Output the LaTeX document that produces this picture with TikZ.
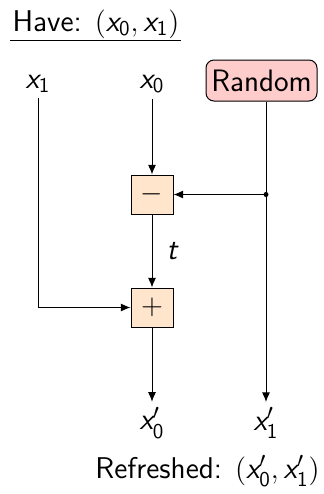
\documentclass[tikz,border=0pt]{standalone}
\usepackage{amsmath}
\usetikzlibrary{arrows.meta}
\renewcommand{\familydefault}{\sfdefault}
% sans-serif variables and indices
\newcommand{\vx}{\textsl{x}}
\newcommand{\ix}[1]{\textsf{#1}}
\newcommand{\vt}{\textsl{t}}
\newcommand{\lblfont}{\fontsize{15}{18}\selectfont}

\begin{document}
\begin{tikzpicture}[x=0.5pt, y=-0.5pt,
  >={Latex[length=4.8pt,width=4pt]},
  line width=0.5pt,
  opbox/.style={draw, fill=orange!20, minimum width=21pt, minimum height=19.5pt, inner sep=0pt, font=\lblfont},
  lbl/.style={inner sep=2.5pt, font=\lblfont},
  randbox/.style={draw, rounded corners=4pt, fill=red!20, minimum width=55.5pt, minimum height=20.5pt, inner sep=0pt, font=\fontsize{15.5}{18}\selectfont}]
\useasboundingbox (0,0) rectangle (324,494);

% heading and its rule
\node[anchor=base west, inner sep=0pt, font=\lblfont] (have) at (12,31) {Have: $(\vx_{\ix{0}},\vx_{\ix{1}})$};
\draw (10,40.5) -- (181,40.5);

% inputs
\node[lbl] (x1) at (38,84) {$\vx_{\ix{1}}$};
\node[lbl] (x0) at (152,84) {$\vx_{\ix{0}}$};
\node[randbox] (rnd) at (261.5,80.5) {Random};

% operations
\node[opbox] (minus) at (152,194.5) {$-$};
\node[opbox] (plus) at (152,307.5) {$+$};

% outputs
\node[lbl] (x0p) at (152,423) {$\vx'_{\ix{0}}$};
\node[lbl] (x1p) at (266,423) {$\vx'_{\ix{1}}$};
\node[anchor=base west, inner sep=0pt, font=\lblfont] (refr) at (95,478) {Refreshed: $(\vx'_{\ix{0}},\vx'_{\ix{1}})$};

% connectors
\coordinate (split) at (x1p |- minus);
\draw[->] (x0) -- (minus);
\draw[->] (minus) -- node[right, inner sep=7pt, font=\lblfont] (tl) {\vt} (plus);
\draw[->] (x1) |- (plus);
\draw[->] (plus) -- (x0p);
\draw[->] (rnd.south -| x1p) -- (x1p);
\draw[->] (split) -- (minus);
\fill (split) circle (2.5);
\end{tikzpicture}
\end{document}
